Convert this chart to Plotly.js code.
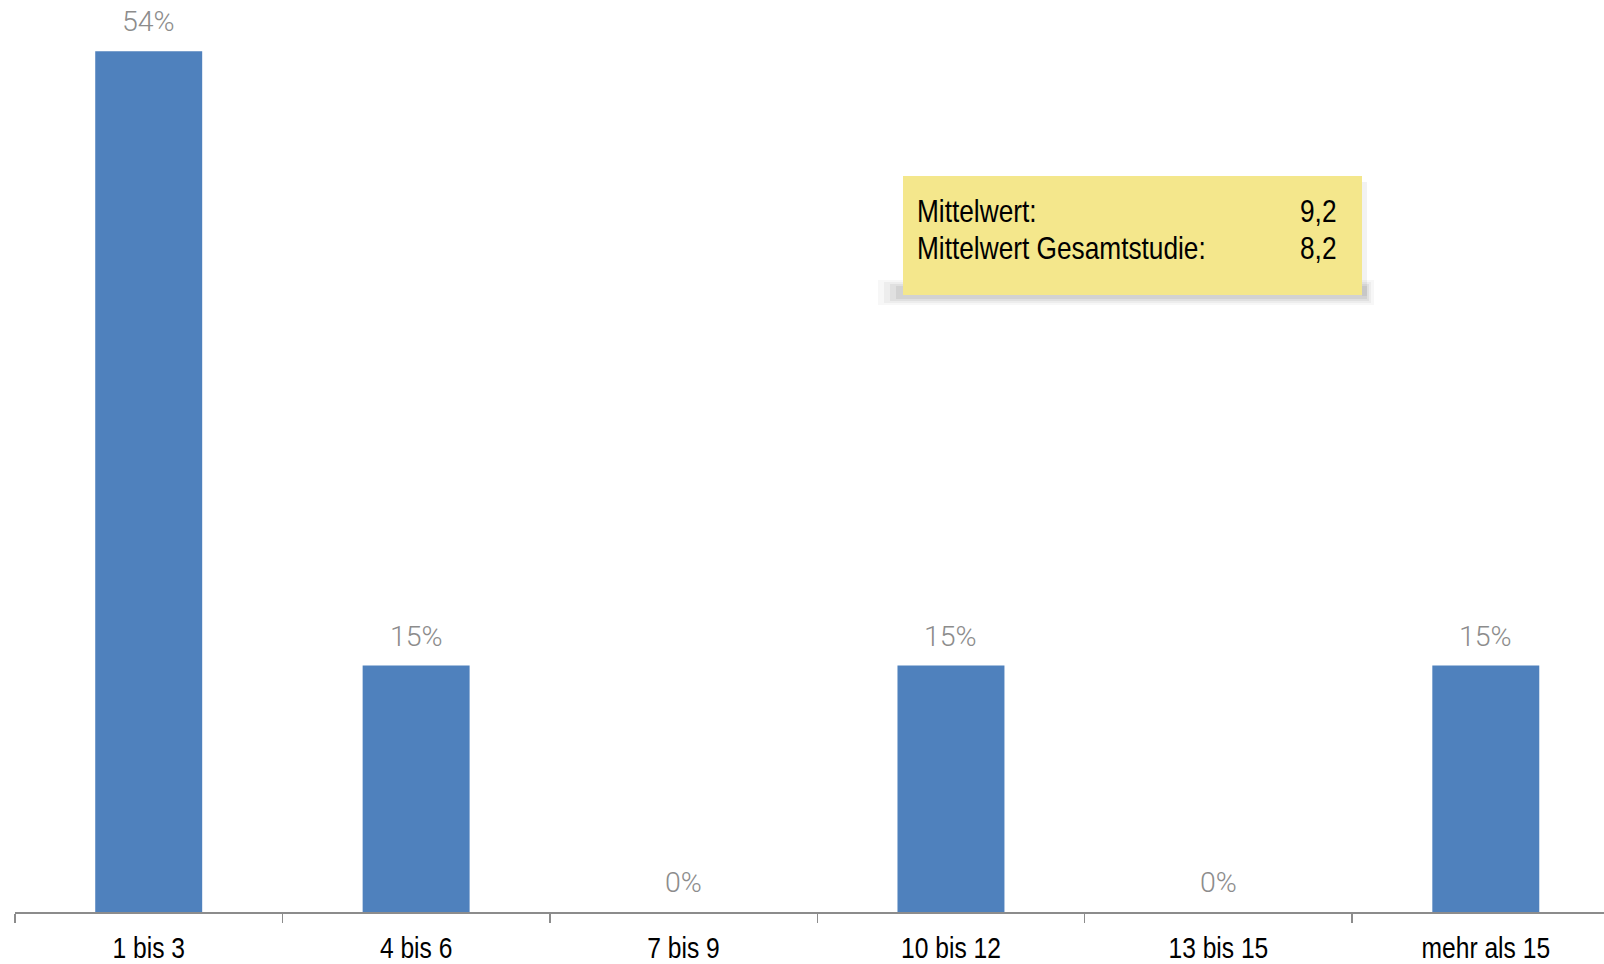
<!DOCTYPE html>
<html>
<head>
<meta charset="utf-8">
<script src="https://cdn.plot.ly/plotly-3.0.1.min.js"></script>
<style>
html,body{margin:0;padding:0;background:#fff;}
#chart{width:1604px;height:964px;}
</style>
</head>
<body>
<div id="chart"></div>
<script>
// Data
const categories = ["1 bis 3", "4 bis 6", "7 bis 9", "10 bis 12", "13 bis 15", "mehr als 15"];
const shares = [53.8, 15.4, 0, 15.4, 0, 15.4];
const shareLabels = ["54%", "15%", "0%", "15%", "0%", "15%"];
const noteLabels = ["Mittelwert:", "Mittelwert Gesamtstudie:"];
const noteValues = ["9,2", "8,2"];

const sans = "'Liberation Sans', Arial, sans-serif";
const NARROW = 0.82; // Arial Narrow width relative to Arial

const trace = {
  type: "bar",
  x: categories,
  y: shares,
  width: 0.4,
  marker: {color: "#4f81bd"},
  hoverinfo: "skip"
};

// pixel -> paper helpers for layout-only decorations
const L = 15, W = 1589, H = 912;
const px = v => (v - L) / W;
const py = v => (H - v) / H;

const annotations = categories.map((c, i) => ({
  x: c, y: shares[i], xref: "x", yref: "y",
  text: shareLabels[i], showarrow: false,
  yanchor: "bottom", yshift: 11,
  font: {family: "Roboto", weight: 300, size: 28.5, color: "#8c8c8c"}
}));

const anchorMode = {}; // annotation index -> 'start' | 'end'
const noteY = [211, 248];
noteLabels.forEach((t, i) => {
  anchorMode[annotations.length] = "start";
  annotations.push({
    x: px(915), y: py(noteY[i]), xref: "paper", yref: "paper",
    text: t, showarrow: false, xanchor: "left", yanchor: "middle",
    font: {family: sans, size: 32, color: "#000"}
  });
  anchorMode[annotations.length] = "end";
  annotations.push({
    x: px(1338), y: py(noteY[i]), xref: "paper", yref: "paper",
    text: noteValues[i], showarrow: false, xanchor: "right", yanchor: "middle",
    font: {family: sans, size: 32, color: "#000"}
  });
});

const shapes = [];
// soft shadow under the note (layered translucent bands)
const shadowBands = [
  [878, 1374, 305, 280, 0.03],
  [884, 1371, 303, 282, 0.04],
  [890, 1369, 301, 284, 0.05],
  [896, 1367, 299, 286, 0.06]
];
shadowBands.forEach(b => shapes.push({
  type: "rect", xref: "paper", yref: "paper",
  x0: px(b[0]), x1: px(b[1]), y0: py(b[2]), y1: py(b[3]),
  fillcolor: "rgba(0,0,0," + b[4] + ")", line: {width: 0}, layer: "above"
}));
shapes.push({type: "rect", xref: "paper", yref: "paper", x0: px(1362), x1: px(1367), y0: py(296), y1: py(182),
  fillcolor: "rgba(0,0,0,0.05)", line: {width: 0}, layer: "above"});
// note
shapes.push({type: "rect", xref: "paper", yref: "paper", x0: px(903), x1: px(1362), y0: py(295), y1: py(176),
  fillcolor: "#f4e78c", line: {width: 0}, layer: "above"});

const layout = {
  width: 1604, height: 964,
  margin: {l: L, r: 0, t: 0, b: 52, pad: 0},
  paper_bgcolor: "#fff", plot_bgcolor: "#fff",
  showlegend: false,
  xaxis: {
    type: "category",
    range: [-0.5, 5.442],
    showline: true, linecolor: "#8c8c8c", linewidth: 2,
    ticks: "outside", tickson: "boundaries", ticklen: 9, tickwidth: 1.5, tickcolor: "#8c8c8c",
    ticklabelstandoff: 8,
    tickfont: {family: sans, size: 30, color: "#000"},
    showgrid: false, zeroline: false, fixedrange: true
  },
  yaxis: {
    range: [0, 57], visible: false, showgrid: false, zeroline: false, fixedrange: true
  },
  annotations: annotations,
  shapes: shapes
};

function condense(el, mode) {
  const bb = el.getBBox();
  const len = el.getComputedTextLength();
  el.setAttribute("lengthAdjust", "spacingAndGlyphs");
  el.setAttribute("textLength", (len * NARROW).toFixed(2));
  if (mode === "start") {
    el.setAttribute("text-anchor", "start");
    el.setAttribute("x", bb.x);
  } else if (mode === "end") {
    el.setAttribute("text-anchor", "end");
    el.setAttribute("x", bb.x + bb.width);
  }
}

Plotly.newPlot("chart", [trace], layout, {displayModeBar: false, staticPlot: true}).then(gd => {
  gd.querySelectorAll(".xaxislayer-above .xtick text").forEach(t => condense(t, null));
  Object.keys(anchorMode).forEach(i => {
    const t = gd.querySelector('.annotation[data-index="' + i + '"] text.annotation-text');
    if (t) condense(t, anchorMode[i]);
  });
});
</script>
</body>
</html>
